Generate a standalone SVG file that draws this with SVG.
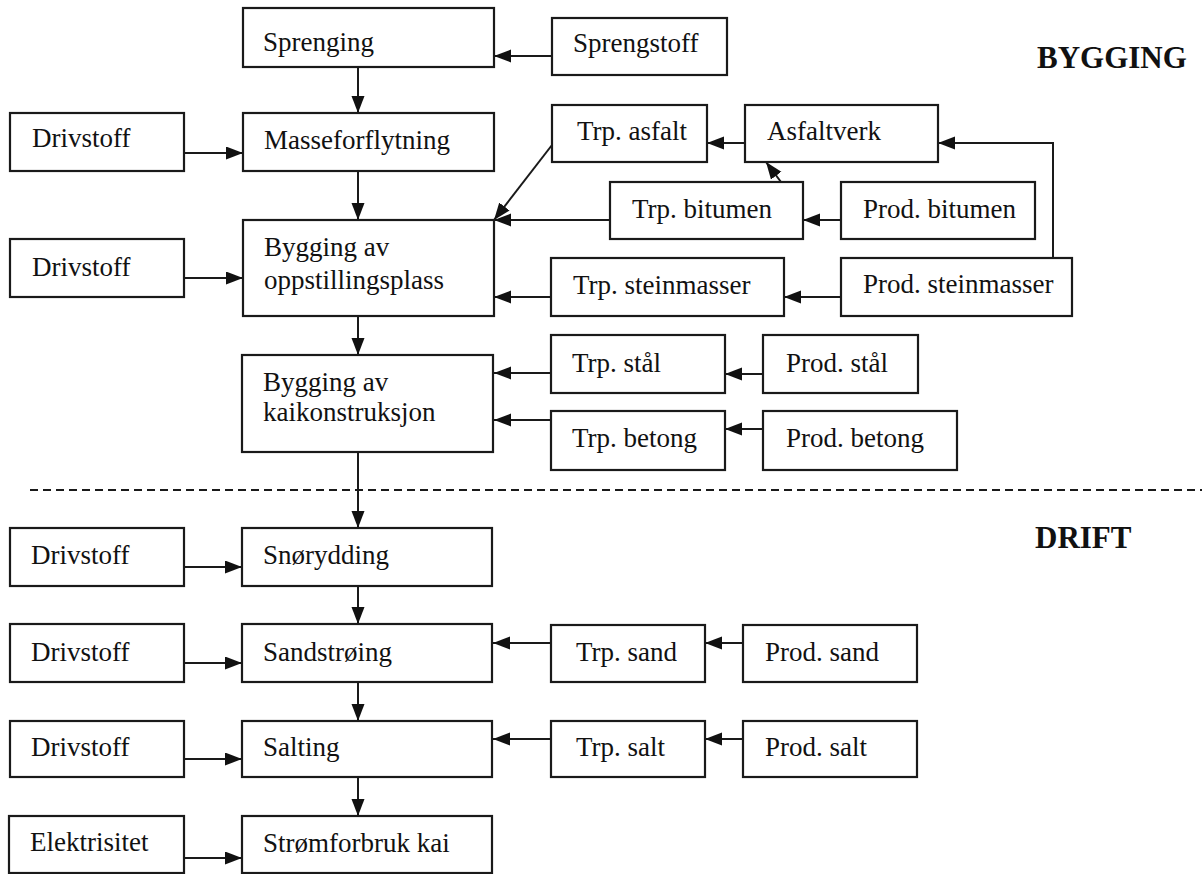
<svg xmlns="http://www.w3.org/2000/svg" width="1202" height="874" viewBox="0 0 1202 874">
<style>
.b{fill:#fff;stroke:#1a1a1a;stroke-width:2.2}
.t{font-family:"Liberation Serif","Times New Roman",serif;font-size:27px;fill:#111}
.h{font-family:"Liberation Serif","Times New Roman",serif;font-size:31px;font-weight:bold;fill:#111}
.c{fill:none;stroke:#1a1a1a;stroke-width:2}
</style>
<defs>
<marker id="a" markerUnits="userSpaceOnUse" markerWidth="18" markerHeight="14" refX="17" refY="6.5" orient="auto">
<path d="M0,0 L17,6.5 L0,13 z" fill="#111"/>
</marker>
</defs>
<rect width="1202" height="874" fill="#fff"/>
<line x1="30" y1="490" x2="1202" y2="490" stroke="#1a1a1a" stroke-width="2" stroke-dasharray="8 5"/>
<text class="h" x="1037" y="68">BYGGING</text>
<text class="h" x="1035" y="548">DRIFT</text>
<g id="connectors">
<line class="c" x1="552" y1="56" x2="494" y2="56" marker-end="url(#a)"/>
<line class="c" x1="358" y1="67" x2="358" y2="113" marker-end="url(#a)"/>
<line class="c" x1="184" y1="153" x2="243" y2="153" marker-end="url(#a)"/>
<line class="c" x1="358" y1="171" x2="358" y2="220" marker-end="url(#a)"/>
<line class="c" x1="745" y1="143" x2="707" y2="143" marker-end="url(#a)"/>
<line class="c" x1="552" y1="145" x2="494" y2="220" marker-end="url(#a)"/>
<line class="c" x1="610" y1="220" x2="494" y2="220" marker-end="url(#a)"/>
<line class="c" x1="841" y1="220" x2="803" y2="220" marker-end="url(#a)"/>
<line class="c" x1="781" y1="182" x2="766" y2="162" marker-end="url(#a)"/>
<polyline class="c" points="1053,258 1053,143 938,143" marker-end="url(#a)"/>
<line class="c" x1="184" y1="278" x2="243" y2="278" marker-end="url(#a)"/>
<line class="c" x1="551" y1="297" x2="494" y2="297" marker-end="url(#a)"/>
<line class="c" x1="841" y1="297" x2="784" y2="297" marker-end="url(#a)"/>
<line class="c" x1="358" y1="316" x2="358" y2="355" marker-end="url(#a)"/>
<line class="c" x1="551" y1="373" x2="494" y2="373" marker-end="url(#a)"/>
<line class="c" x1="763" y1="374" x2="725" y2="374" marker-end="url(#a)"/>
<line class="c" x1="551" y1="420" x2="494" y2="420" marker-end="url(#a)"/>
<line class="c" x1="763" y1="429" x2="725" y2="429" marker-end="url(#a)"/>
<line class="c" x1="358" y1="452" x2="358" y2="528" marker-end="url(#a)"/>
<line class="c" x1="184" y1="567" x2="242" y2="567" marker-end="url(#a)"/>
<line class="c" x1="358" y1="586" x2="358" y2="624" marker-end="url(#a)"/>
<line class="c" x1="184" y1="663" x2="242" y2="663" marker-end="url(#a)"/>
<line class="c" x1="551" y1="643" x2="493" y2="643" marker-end="url(#a)"/>
<line class="c" x1="743" y1="643" x2="705" y2="643" marker-end="url(#a)"/>
<line class="c" x1="358" y1="682" x2="358" y2="721" marker-end="url(#a)"/>
<line class="c" x1="184" y1="759" x2="242" y2="759" marker-end="url(#a)"/>
<line class="c" x1="551" y1="739" x2="493" y2="739" marker-end="url(#a)"/>
<line class="c" x1="743" y1="739" x2="705" y2="739" marker-end="url(#a)"/>
<line class="c" x1="358" y1="777" x2="358" y2="816" marker-end="url(#a)"/>
<line class="c" x1="184" y1="858" x2="242" y2="858" marker-end="url(#a)"/>
</g>
<g id="sprenging"><rect class="b" x="243" y="8" width="251" height="59"/><text class="t" x="263" y="51">Sprenging</text></g>
<g id="sprengstoff"><rect class="b" x="552" y="18" width="175" height="57"/><text class="t" x="573" y="52">Sprengstoff</text></g>
<g id="drivstoff1"><rect class="b" x="10" y="113" width="174" height="58"/><text class="t" x="32" y="147">Drivstoff</text></g>
<g id="masseforflytning"><rect class="b" x="243" y="113" width="251" height="58"/><text class="t" x="264" y="149">Masseforflytning</text></g>
<g id="trp-asfalt"><rect class="b" x="552" y="105" width="155" height="57"/><text class="t" x="577" y="140">Trp. asfalt</text></g>
<g id="asfaltverk"><rect class="b" x="745" y="105" width="193" height="57"/><text class="t" x="767" y="140">Asfaltverk</text></g>
<g id="trp-bitumen"><rect class="b" x="610" y="182" width="193" height="57"/><text class="t" x="632" y="218">Trp. bitumen</text></g>
<g id="prod-bitumen"><rect class="b" x="841" y="182" width="194" height="57"/><text class="t" x="863" y="218">Prod. bitumen</text></g>
<g id="drivstoff2"><rect class="b" x="10" y="239" width="174" height="58"/><text class="t" x="32" y="276">Drivstoff</text></g>
<g id="bygging-oppstillingsplass"><rect class="b" x="243" y="220" width="251" height="96"/><text class="t" x="264" y="256">Bygging av</text><text class="t" x="264" y="289">oppstillingsplass</text></g>
<g id="trp-steinmasser"><rect class="b" x="551" y="258" width="233" height="58"/><text class="t" x="573" y="294">Trp. steinmasser</text></g>
<g id="prod-steinmasser"><rect class="b" x="841" y="258" width="231" height="58"/><text class="t" x="863" y="293">Prod. steinmasser</text></g>
<g id="bygging-kaikonstruksjon"><rect class="b" x="242" y="355" width="251" height="97"/><text class="t" x="263" y="391">Bygging av</text><text class="t" x="263" y="421">kaikonstruksjon</text></g>
<g id="trp-stal"><rect class="b" x="551" y="335" width="174" height="58"/><text class="t" x="572" y="372">Trp. stål</text></g>
<g id="prod-stal"><rect class="b" x="763" y="335" width="155" height="58"/><text class="t" x="786" y="372">Prod. stål</text></g>
<g id="trp-betong"><rect class="b" x="551" y="411" width="174" height="59"/><text class="t" x="572" y="447">Trp. betong</text></g>
<g id="prod-betong"><rect class="b" x="763" y="411" width="194" height="59"/><text class="t" x="786" y="447">Prod. betong</text></g>
<g id="drivstoff3"><rect class="b" x="10" y="528" width="174" height="58"/><text class="t" x="31" y="564">Drivstoff</text></g>
<g id="snorydding"><rect class="b" x="242" y="528" width="250" height="58"/><text class="t" x="263" y="564">Snørydding</text></g>
<g id="drivstoff4"><rect class="b" x="10" y="624" width="174" height="58"/><text class="t" x="31" y="661">Drivstoff</text></g>
<g id="sandstroing"><rect class="b" x="242" y="624" width="250" height="58"/><text class="t" x="263" y="661">Sandstrøing</text></g>
<g id="trp-sand"><rect class="b" x="551" y="625" width="154" height="57"/><text class="t" x="576" y="661">Trp. sand</text></g>
<g id="prod-sand"><rect class="b" x="743" y="625" width="174" height="57"/><text class="t" x="765" y="661">Prod. sand</text></g>
<g id="drivstoff5"><rect class="b" x="10" y="721" width="174" height="56"/><text class="t" x="31" y="756">Drivstoff</text></g>
<g id="salting"><rect class="b" x="242" y="721" width="250" height="56"/><text class="t" x="263" y="756">Salting</text></g>
<g id="trp-salt"><rect class="b" x="551" y="721" width="154" height="56"/><text class="t" x="576" y="756">Trp. salt</text></g>
<g id="prod-salt"><rect class="b" x="743" y="721" width="174" height="56"/><text class="t" x="765" y="756">Prod. salt</text></g>
<g id="elektrisitet"><rect class="b" x="9" y="816" width="175" height="57"/><text class="t" x="30" y="851">Elektrisitet</text></g>
<g id="stromforbruk"><rect class="b" x="242" y="816" width="250" height="57"/><text class="t" x="263" y="852">Strømforbruk kai</text></g>
</svg>
